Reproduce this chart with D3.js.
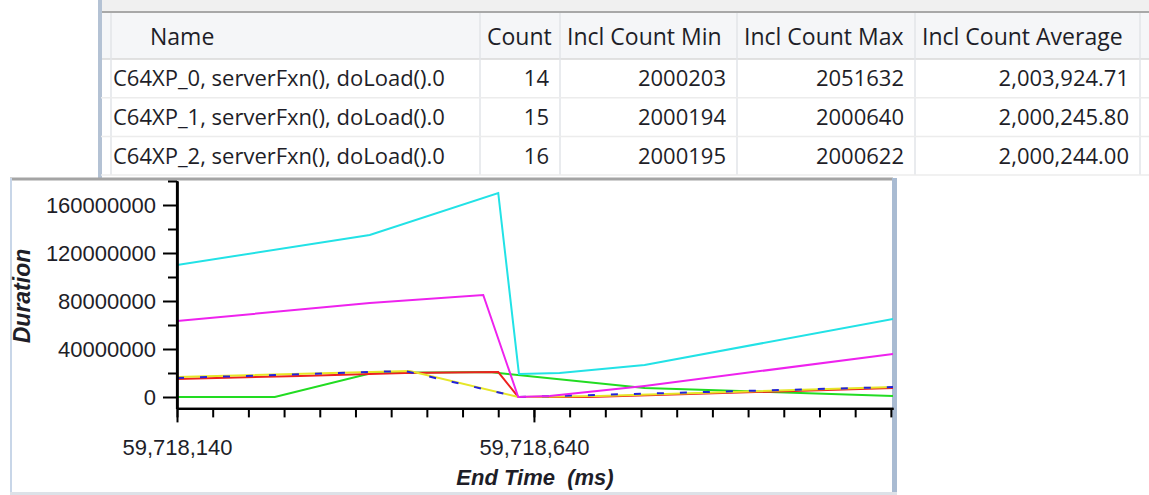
<!DOCTYPE html>
<html><head><meta charset="utf-8">
<script src="https://cdn.jsdelivr.net/npm/d3@7"></script>
<style>
html,body{margin:0;padding:0;background:#fff;}
svg{display:block;}
text{font-family:"Liberation Sans",Arial,sans-serif;fill:#1e1e28;}
.tb{font-family:"Open Sans","Noto Sans",sans-serif;}
</style></head>
<body>
<svg id="c" width="1149" height="495"></svg>
<script>
// ---------- table data ----------
const columns = ["Name", "Count", "Incl Count Min", "Incl Count Max", "Incl Count Average"];
const rowNames = ["C64XP_0, serverFxn(), doLoad().0", "C64XP_1, serverFxn(), doLoad().0", "C64XP_2, serverFxn(), doLoad().0"];
const counts = [14, 15, 16];
const inclMin = ["2000203", "2000194", "2000195"];
const inclMax = ["2051632", "2000640", "2000622"];
const inclAvg = ["2,003,924.71", "2,000,245.80", "2,000,244.00"];

// ---------- chart data (End Time ms, Duration) ----------
const xTickLabels = [59718140, 59718640];
const yTickValues = [0, 40000000, 80000000, 120000000, 160000000];
const cyanT = [59718140, 59718410, 59718590, 59718619, 59718676, 59718795, 59719143];
const cyanV = [110000000, 135000000, 170000000, 19200000, 20000000, 26700000, 65000000];
const magentaT = [59718140, 59718410, 59718569, 59718618, 59718662, 59718795, 59719143];
const magentaV = [63300000, 78300000, 85000000, 0, 800000, 9200000, 35800000];
const greenT = [59718140, 59718277, 59718413, 59718578, 59718795, 59719143];
const greenV = [0, 0, 20000000, 20800000, 7500000, 800000];
const redT = [59718140, 59718312, 59718459, 59718590, 59718618, 59718718, 59719143];
const redV = [15000000, 17500000, 20000000, 20800000, 0, 0, 7500000];
const yellowT = [59718140, 59718466, 59718618, 59718732, 59719143];
const yellowV = [16700000, 21700000, 0, 800000, 8300000];
const blueT = [59718140, 59718459, 59718618, 59719143];
const blueV = [15800000, 21700000, 0, 8300000];

const svg = d3.select("#c");

// ---------- table ----------
const colEdges = [111, 480, 560, 737, 915, 1140];
const headerTop = 12, headerBot = 59, rowH = 38.7;
const tbl = svg.append("g");
tbl.append("rect").attr("x", 98).attr("y", 0).attr("width", 1051).attr("height", 12).attr("fill", "#f0f0f0");
tbl.append("rect").attr("x", 98).attr("y", headerTop).attr("width", 1051).attr("height", headerBot - headerTop).attr("fill", "#f5f6f8");
tbl.append("line").attr("x1", 101).attr("x2", 1149).attr("y1", headerTop).attr("y2", headerTop).attr("stroke", "#a8a8a8").attr("stroke-width", 2);
tbl.append("line").attr("x1", 101).attr("x2", 1149).attr("y1", headerBot).attr("y2", headerBot).attr("stroke", "#d8d8d8").attr("stroke-width", 1.5);
tbl.append("rect").attr("x", 98).attr("y", 0).attr("width", 4).attr("height", 178).attr("fill", "#b4c2d4");
colEdges.forEach(x => {
  tbl.append("line").attr("x1", x).attr("x2", x).attr("y1", headerTop + 1).attr("y2", 175)
    .attr("stroke", "#e2e4e8").attr("stroke-width", 1.5);
});
const rowsData = rowNames.map((n, i) => [n, String(counts[i]), inclMin[i], inclMax[i], inclAvg[i]]);
rowsData.forEach((r, i) => {
  const y0 = headerBot + i * rowH;
  tbl.append("line").attr("x1", 101).attr("x2", 1149).attr("y1", y0 + rowH).attr("y2", y0 + rowH)
    .attr("stroke", "#ececec").attr("stroke-width", 1.5);
  r.forEach((v, j) => {
    const t = tbl.append("text").attr("class", "tb").attr("y", y0 + rowH / 2 + 8).style("font-size", "22px").text(v);
    if (j === 0) t.attr("x", colEdges[0] + 2);
    else t.attr("x", colEdges[j + 1] - 11).attr("text-anchor", "end");
  });
});
columns.forEach((c, j) => {
  tbl.append("text").attr("class", "tb").attr("x", j === 0 ? 150 : colEdges[j] + 7).attr("y", 45)
    .style("font-size", "23px").text(c);
});

// ---------- chart panel ----------
const panel = svg.append("g");
panel.append("rect").attr("x", 10).attr("y", 178).attr("width", 886).attr("height", 317).attr("fill", "#fff");
panel.append("line").attr("x1", 10).attr("x2", 893).attr("y1", 179).attr("y2", 179).attr("stroke", "#a4a4a4").attr("stroke-width", 3);
panel.append("rect").attr("x", 10).attr("y", 178).attr("width", 2).attr("height", 317).attr("fill", "#c8d6e8");
panel.append("rect").attr("x", 892).attr("y", 178).attr("width", 5).attr("height", 317).attr("fill", "#a9bbd2");
panel.append("rect").attr("x", 10).attr("y", 492).attr("width", 887).attr("height", 3).attr("fill", "#dde2e8");

const x = d3.scaleLinear().domain([59718140, 59719143]).range([177, 893]);
const y = d3.scaleLinear().domain([-9500000, 180000000]).range([408.4, 181]);

// lines
svg.append("clipPath").attr("id", "pc").append("rect")
  .attr("x", 177).attr("y", 181).attr("width", 716).attr("height", 228);
const line = d3.line().x(d => x(d[0])).y(d => y(d[1]));
const series = [
  {t: greenT, v: greenV, c: "#22dc22", dash: null},
  {t: redT, v: redV, c: "#ee2020", dash: null},
  {t: yellowT, v: yellowV, c: "#e6e628", dash: null},
  {t: blueT, v: blueV, c: "#2222dd", dash: "7,16"},
  {t: magentaT, v: magentaV, c: "#ee22ee", dash: null},
  {t: cyanT, v: cyanV, c: "#22e2e6", dash: null}
];
const lg = svg.append("g").attr("clip-path", "url(#pc)");
series.forEach(s => {
  lg.append("path").datum(s.t.map((t, i) => [t, s.v[i]]))
    .attr("d", line).attr("fill", "none").attr("stroke", s.c).attr("stroke-width", 2)
    .attr("stroke-dasharray", s.dash);
});

// y axis
const yMinor = d3.range(20000000, 180000001, 40000000);
svg.append("g").attr("transform", "translate(177,0)")
  .call(d3.axisLeft(y).tickValues(yMinor).tickSize(9).tickFormat("").tickSizeOuter(0));
const yAx = svg.append("g").attr("transform", "translate(177,0)")
  .call(d3.axisLeft(y).tickValues(yTickValues).tickSize(14).tickPadding(7).tickFormat(d3.format("d")).tickSizeOuter(0));
yAx.selectAll("text").style("font-size", "22px").attr("fill", "#1e1e28").style("font-family", "'Liberation Sans',Arial,sans-serif");

// x axis
const xMinor = d3.range(59718140, 59719141, 50);
svg.append("g").attr("transform", "translate(0,408.4)")
  .call(d3.axisBottom(x).tickValues(xMinor).tickSize(9).tickFormat("").tickSizeOuter(0));
const xAx = svg.append("g").attr("transform", "translate(0,408.4)")
  .call(d3.axisBottom(x).tickValues(xTickLabels).tickSize(14).tickPadding(17).tickFormat(d3.format(",")).tickSizeOuter(0));
xAx.selectAll("text").style("font-size", "22px").attr("fill", "#1e1e28").style("font-family", "'Liberation Sans',Arial,sans-serif");

svg.selectAll(".domain").attr("stroke", "#000").attr("stroke-width", 2.2);
svg.selectAll(".tick line").attr("stroke", "#000").attr("stroke-width", 2);
svg.append("line").attr("x1", 177).attr("x2", 177).attr("y1", 181).attr("y2", 409).attr("stroke", "#000").attr("stroke-width", 2.2);

// axis titles
svg.append("text").attr("transform", "translate(30,296) rotate(-90)").attr("text-anchor", "middle")
  .style("font-size", "23px").style("font-weight", "bold").style("font-style", "italic").text("Duration");
svg.append("text").attr("x", 535).attr("y", 485).attr("text-anchor", "middle").attr("xml:space", "preserve")
  .style("font-size", "22px").style("font-weight", "bold").style("font-style", "italic").style("white-space", "pre").text("End Time  (ms)");
</script>
</body></html>
